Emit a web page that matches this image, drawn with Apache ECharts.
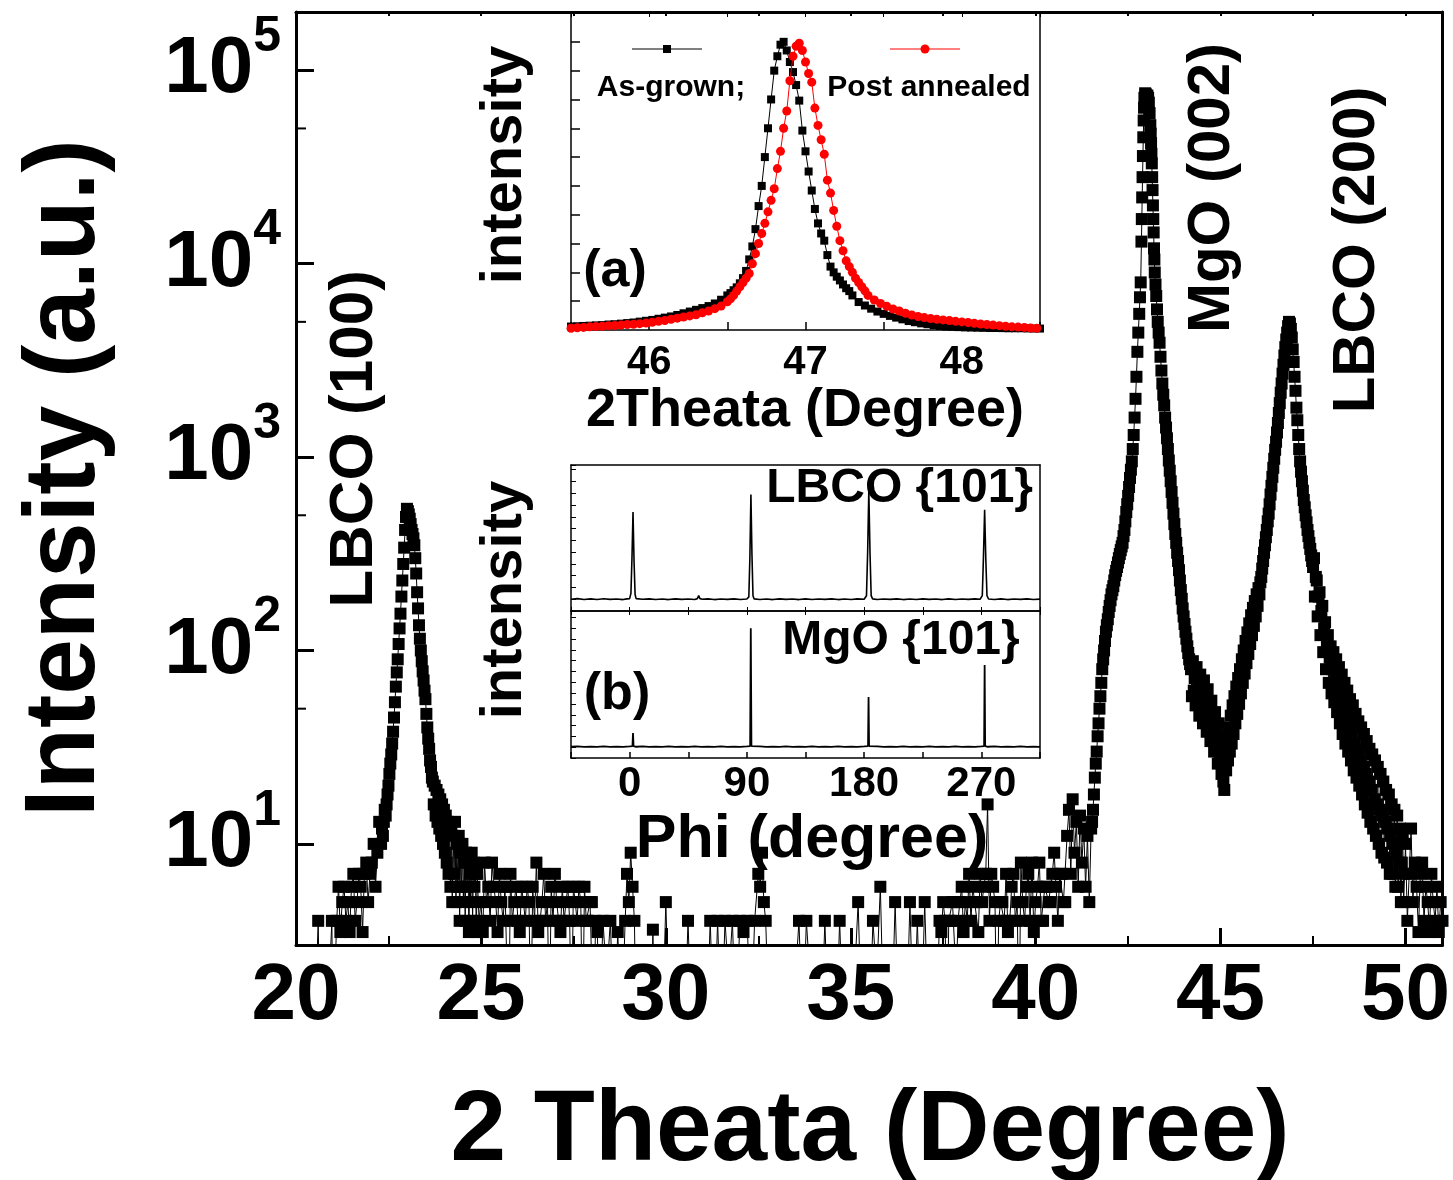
<!DOCTYPE html>
<html><head><meta charset="utf-8">
<script src="https://cdn.jsdelivr.net/npm/echarts@6/dist/echarts.min.js"></script>
<style>html,body{margin:0;padding:0;background:#fff}#c{width:1453px;height:1180px}</style>
</head><body><div id="c"></div>
<script>
// ===== Main scan: 2θ (degree) vs intensity (a.u.) =====
const bgLeft = [[20.0,1],[20.05,2],[20.1,1],[20.15,2],[20.2,1],[20.25,2],[20.3,1],[20.35,2],[20.4,1],[20.45,2],[20.5,1],[20.55,2],[20.6,4],[20.65,1],[20.7,2],[20.75,1],[20.8,2],[20.85,1],[20.9,2],[20.97,4],[21.0,1],[21.05,2],[21.1,4],[21.15,6],[21.2,3.5],[21.25,5],[21.3,6],[21.35,4],[21.4,5],[21.45,3.5],[21.5,6],[21.55,7],[21.6,4],[21.65,5],[21.7,7],[21.75,6],[21.8,3.5],[21.85,7],[21.9,8],[21.95,5],[22.0,7],[22.05,8],[22.1,10],[22.15,6],[22.2,9],[22.25,13]];
const peak100 = [[22.3,10],[22.325,12],[22.35,11],[22.375,13],[22.4,15],[22.425,14],[22.45,16],[22.475,18],[22.5,20],[22.525,23],[22.55,26],[22.575,29],[22.6,33],[22.625,38],[22.65,45],[22.675,54],[22.7,65],[22.725,77],[22.75,90],[22.775,108],[22.8,130],[22.825,155],[22.85,190],[22.875,230],[22.9,280],[22.925,340],[22.95,420],[22.975,490],[23.0,540],[23.025,525],[23.05,505],[23.075,480],[23.1,450],[23.125,420],[23.15,400],[23.175,380],[23.2,350],[23.225,300],[23.25,250],[23.275,200],[23.3,165],[23.325,135],[23.35,115],[23.375,100],[23.4,88],[23.425,78],[23.45,70],[23.475,62],[23.5,56],[23.525,47],[23.55,40],[23.575,35],[23.6,31],[23.625,27],[23.65,25],[23.675,22],[23.7,21],[23.725,16],[23.75,20],[23.775,14],[23.8,19],[23.825,13],[23.85,18],[23.875,12],[23.9,17],[23.925,11],[23.95,16],[23.975,10],[24.0,15],[24.025,9],[24.05,14],[24.075,8],[24.1,13],[24.125,7],[24.15,12],[24.175,6],[24.2,12],[24.225,5],[24.25,11],[24.275,7],[24.3,13],[24.325,5],[24.35,10],[24.375,6],[24.4,11],[24.425,4],[24.45,9],[24.475,6],[24.5,10],[24.525,5],[24.55,8],[24.575,4],[24.6,9],[24.625,6],[24.65,8],[24.675,3.5],[24.7,7],[24.725,5],[24.75,9],[24.775,4],[24.8,8],[24.825,6],[24.85,7],[24.875,3.5]];
const bgMid = [[24.9,7],[24.95,4],[25.0,5],[25.05,3.5],[25.1,8],[25.15,5],[25.2,6],[25.25,4],[25.3,8],[25.35,6],[25.4,5],[25.45,3.5],[25.5,7],[25.55,5],[25.6,4],[25.65,6],[25.7,6],[25.75,1],[25.8,7],[25.85,4],[25.9,5],[25.95,6],[26.0,4],[26.05,3.5],[26.1,6],[26.15,5],[26.2,4],[26.25,6],[26.3,5],[26.35,1],[26.4,6],[26.45,4],[26.5,8],[26.55,3.5],[26.6,4],[26.65,5],[26.7,7],[26.75,4],[26.8,5],[26.85,1],[26.9,6],[26.95,4],[27.0,7],[27.05,5],[27.1,4],[27.15,3.5],[27.2,6],[27.25,4],[27.3,5],[27.35,6],[27.4,4],[27.45,1],[27.5,6],[27.55,5],[27.6,4],[27.65,6],[27.7,5],[27.75,1],[27.8,6],[27.85,4],[27.9,4],[27.95,5],[28.0,5],[28.05,1],[28.1,4],[28.15,3.5]];
const sparse = [[28.2,1],[28.3,4],[28.4,2],[28.5,4],[28.6,1],[28.7,3.5],[28.8,1],[28.9,4],[28.95,7],[29.0,5],[29.05,9],[29.1,6],[29.15,4],[29.2,1],[29.3,2],[29.4,1],[29.5,2],[29.6,1],[29.65,3.6],[29.7,1],[29.8,2],[29.9,1],[30.0,5],[30.1,1],[30.2,2],[30.3,1],[30.4,2],[30.5,1],[30.6,4],[30.7,1],[30.8,2],[30.9,1],[31.0,2],[31.1,1],[31.2,4],[31.3,1],[31.4,4],[31.5,1],[31.6,4],[31.7,2],[31.8,4],[31.9,1],[32.0,4],[32.1,3.5],[32.2,4],[32.3,1],[32.4,4],[32.5,7],[32.55,6],[32.6,9],[32.65,5],[32.7,4],[32.8,1],[32.9,2],[33.0,1],[33.1,2],[33.2,1],[33.3,2],[33.4,1],[33.5,2],[33.6,4],[33.7,1],[33.8,4],[33.9,2],[34.0,1],[34.1,2],[34.2,1],[34.3,4],[34.4,1],[34.5,2],[34.6,1],[34.7,4],[34.8,1],[34.9,2],[35.0,1],[35.1,2],[35.2,5],[35.3,1],[35.4,2],[35.5,1],[35.6,4],[35.7,2],[35.8,6],[35.9,1],[36.0,2],[36.1,1],[36.2,5],[36.3,1],[36.4,2],[36.5,1],[36.6,5],[36.7,1],[36.8,4],[36.9,1],[37.0,5],[37.1,1],[37.2,2],[37.3,1]];
const bgRight = [[37.4,4],[37.45,3.5],[37.5,5],[37.55,4],[37.6,1],[37.65,4],[37.7,4],[37.75,5],[37.8,5],[37.85,2],[37.9,4],[37.95,5],[38.0,6],[38.05,3.5],[38.1,5],[38.15,4],[38.2,7],[38.25,4],[38.3,6],[38.35,5],[38.4,5],[38.45,3.5],[38.5,7],[38.55,5],[38.6,6],[38.65,7],[38.7,16],[38.75,4],[38.8,7],[38.85,6],[38.9,5],[38.95,1],[39.0,4],[39.05,5],[39.1,5],[39.15,4],[39.2,7],[39.25,3.5],[39.3,4],[39.35,6],[39.4,7],[39.45,4],[39.5,5],[39.55,1],[39.6,8],[39.65,5],[39.7,4],[39.75,6],[39.8,7],[39.85,4],[39.9,8],[39.95,3.5],[40.0,5],[40.05,6],[40.1,8],[40.15,4],[40.2,4],[40.25,6],[40.3,6],[40.35,5],[40.4,5],[40.45,7],[40.5,9],[40.55,6],[40.6,4],[40.65,7],[40.7,7],[40.75,5],[40.8,5],[40.85,11],[40.9,15],[40.95,7],[41.0,17],[41.05,9],[41.1,13],[41.15,6],[41.2,14],[41.25,8],[41.3,12],[41.35,6],[41.4,11],[41.45,5]];
const peak002 = [[41.5,12],[41.525,13],[41.55,15],[41.575,18],[41.6,22],[41.625,26],[41.65,30],[41.675,36],[41.7,42],[41.725,50],[41.75,58],[41.775,68],[41.8,80],[41.825,90],[41.85,100],[41.875,112],[41.9,125],[41.925,135],[41.95,145],[41.975,158],[42.0,170],[42.025,182],[42.05,195],[42.075,205],[42.1,215],[42.125,230],[42.15,245],[42.175,258],[42.2,270],[42.225,285],[42.25,300],[42.275,315],[42.3,330],[42.325,345],[42.35,360],[42.375,390],[42.4,420],[42.425,465],[42.45,520],[42.475,570],[42.5,630],[42.525,700],[42.55,780],[42.575,860],[42.6,950],[42.625,1100],[42.65,1300],[42.675,1600],[42.7,2000],[42.725,2600],[42.75,3500],[42.775,4400],[42.8,5500],[42.82,6700],[42.84,8000],[42.86,13000],[42.87,17000],[42.88,22000],[42.89,28000],[42.9,36000],[42.91,45000],[42.92,55000],[42.93,64000],[42.94,72000],[42.96,76000],[42.98,75000],[43.0,70000],[43.02,74000],[43.04,72000],[43.06,68000],[43.08,60000],[43.1,52000],[43.11,47000],[43.12,42000],[43.13,37000],[43.14,33000],[43.15,28000],[43.16,24000],[43.17,20000],[43.18,17000],[43.19,14500],[43.2,12000],[43.21,10500],[43.22,9000],[43.24,7800],[43.26,6800],[43.28,5800],[43.3,5000],[43.325,4400],[43.35,3900],[43.375,3300],[43.4,2800],[43.425,2400],[43.45,2100],[43.475,1850],[43.5,1600],[43.525,1420],[43.55,1250],[43.575,1100],[43.6,960],[43.625,850],[43.65,750],[43.675,660],[43.7,580],[43.725,510],[43.75,450],[43.775,400],[43.8,360],[43.825,320],[43.85,290],[43.875,260],[43.9,230],[43.925,205],[43.95,185],[43.975,165],[44.0,150],[44.025,137],[44.05,125],[44.075,115],[44.1,105],[44.125,97],[44.15,90],[44.175,85],[44.2,80],[44.225,58],[44.25,88],[44.275,62],[44.3,72],[44.325,52],[44.35,82],[44.375,58],[44.4,68],[44.425,46],[44.45,75],[44.475,50],[44.5,62],[44.525,42],[44.55,70],[44.575,45],[44.6,56],[44.625,38],[44.65,63],[44.675,40],[44.7,50],[44.725,34],[44.75,55],[44.775,36],[44.8,45],[44.825,30],[44.85,48],[44.875,31],[44.9,40],[44.925,26],[44.95,42],[44.975,27],[45.0,34],[45.025,23],[45.05,36],[45.075,21],[45.1,19],[45.125,30]];
const peak200 = [[45.15,24],[45.175,36],[45.2,27],[45.225,40],[45.25,30],[45.275,46],[45.3,33],[45.325,52],[45.35,37],[45.375,58],[45.4,42],[45.425,65],[45.45,47],[45.475,72],[45.5,53],[45.525,80],[45.55,60],[45.575,90],[45.6,68],[45.625,100],[45.65,76],[45.675,112],[45.7,86],[45.725,124],[45.75,96],[45.775,138],[45.8,108],[45.825,152],[45.85,120],[45.875,166],[45.9,134],[45.925,180],[45.95,150],[45.975,195],[46.0,170],[46.025,210],[46.05,195],[46.075,225],[46.1,240],[46.125,265],[46.15,290],[46.175,320],[46.2,350],[46.225,385],[46.25,420],[46.275,465],[46.3,510],[46.325,570],[46.35,640],[46.375,710],[46.4,790],[46.425,880],[46.45,980],[46.475,1090],[46.5,1200],[46.525,1340],[46.55,1500],[46.575,1690],[46.6,1900],[46.625,2150],[46.65,2400],[46.675,2700],[46.7,3000],[46.725,3350],[46.75,3700],[46.775,4050],[46.8,4400],[46.825,4750],[46.85,5000],[46.875,4900],[46.9,4600],[46.925,4150],[46.95,3600],[46.975,3100],[47.0,2600],[47.025,2200],[47.05,1800],[47.075,1550],[47.1,1300],[47.125,1100],[47.15,950],[47.175,840],[47.2,750],[47.225,670],[47.25,600],[47.275,550],[47.3,500],[47.325,460],[47.35,420],[47.375,390],[47.4,360],[47.425,335],[47.45,310],[47.475,290],[47.5,270],[47.525,300],[47.55,190],[47.575,240],[47.6,230],[47.625,150],[47.65,190],[47.675,200],[47.7,120],[47.725,160],[47.75,170],[47.775,98],[47.8,130],[47.825,140],[47.85,80],[47.875,110],[47.9,120],[47.925,68],[47.95,92],[47.975,105],[48.0,60],[48.025,80],[48.05,98],[48.075,54],[48.1,70],[48.125,90],[48.15,48],[48.175,62],[48.2,82],[48.225,42],[48.25,55],[48.275,75],[48.3,37],[48.325,50],[48.35,68],[48.375,33],[48.4,45],[48.425,62],[48.45,30],[48.475,40],[48.5,56],[48.525,27],[48.55,36],[48.575,52],[48.6,24],[48.625,33],[48.65,47],[48.675,22],[48.7,30],[48.725,43],[48.75,20],[48.775,27],[48.8,40],[48.825,18],[48.85,25],[48.875,37],[48.9,16],[48.925,23],[48.95,34],[48.975,14.5],[49.0,21],[49.025,31],[49.05,13],[49.075,19],[49.1,29],[49.125,12],[49.15,17],[49.175,27],[49.2,11],[49.225,16],[49.25,25],[49.275,10],[49.3,15],[49.325,23],[49.35,9],[49.375,14],[49.4,21],[49.425,8.5],[49.45,13],[49.475,19],[49.5,8],[49.525,12],[49.55,18],[49.575,7],[49.6,11],[49.625,16],[49.65,7],[49.675,10],[49.7,15],[49.725,6],[49.75,9],[49.775,14],[49.8,6],[49.825,8],[49.85,12],[49.875,5],[49.9,8],[49.925,11],[49.95,5],[49.975,7]];
const bgFar = [[50.0,10],[50.05,4],[50.1,7],[50.15,12],[50.2,5],[50.25,8],[50.3,6],[50.35,3.5],[50.4,7],[50.45,8],[50.5,4],[50.55,6],[50.6,5],[50.65,3.5],[50.7,7],[50.75,5],[50.8,4],[50.85,6],[50.9,3.5],[50.95,5],[51.0,4]];

const yMinorTicks = [50, 500, 5000, 50000];

// ===== Inset (a): normalised 2θ scans =====
const asGrown = [[45.5,0.12],[45.54,0.13],[45.58,0.14],[45.62,0.15],[45.66,0.16],[45.7,0.17],[45.74,0.19],[45.78,0.2],[45.82,0.22],[45.86,0.24],[45.9,0.26],[45.94,0.29],[45.98,0.32],[46.02,0.35],[46.06,0.39],[46.1,0.43],[46.14,0.47],[46.18,0.52],[46.22,0.58],[46.26,0.64],[46.3,0.7],[46.34,0.76],[46.38,0.83],[46.42,0.92],[46.46,1.05],[46.5,1.2],[46.52,1.28],[46.54,1.38],[46.56,1.48],[46.58,1.62],[46.6,1.8],[46.62,2.05],[46.64,2.45],[46.66,2.9],[46.68,3.5],[46.7,4.3],[46.72,5.0],[46.74,6.0],[46.76,7.0],[46.78,8.0],[46.8,9.0],[46.82,9.5],[46.84,9.9],[46.86,10.0],[46.88,9.7],[46.9,9.3],[46.92,8.95],[46.94,8.5],[46.96,7.96],[46.98,6.92],[47.0,6.2],[47.02,5.5],[47.04,4.84],[47.06,4.2],[47.08,3.7],[47.1,3.35],[47.12,3.1],[47.14,2.6],[47.16,2.2],[47.18,2.0],[47.2,1.85],[47.22,1.72],[47.24,1.58],[47.26,1.45],[47.28,1.35],[47.3,1.2],[47.34,0.97],[47.38,0.85],[47.42,0.74],[47.46,0.64],[47.5,0.56],[47.54,0.49],[47.58,0.43],[47.62,0.37],[47.66,0.31],[47.7,0.27],[47.74,0.23],[47.78,0.2],[47.82,0.17],[47.86,0.14],[47.9,0.12],[47.94,0.11],[47.98,0.1],[48.02,0.09],[48.06,0.085],[48.1,0.08],[48.14,0.075],[48.18,0.07],[48.22,0.07],[48.26,0.065],[48.3,0.06],[48.34,0.06],[48.38,0.06],[48.42,0.055],[48.46,0.05],[48.5,0.05]];
const postAnnealed = [[45.5,0.06],[45.54,0.08],[45.58,0.09],[45.62,0.11],[45.66,0.12],[45.7,0.13],[45.74,0.15],[45.78,0.16],[45.82,0.17],[45.86,0.19],[45.9,0.2],[45.94,0.22],[45.98,0.24],[46.02,0.27],[46.06,0.3],[46.1,0.33],[46.14,0.37],[46.18,0.41],[46.22,0.45],[46.26,0.49],[46.3,0.53],[46.34,0.6],[46.38,0.66],[46.42,0.74],[46.46,0.83],[46.5,0.98],[46.52,1.08],[46.54,1.2],[46.56,1.35],[46.58,1.5],[46.6,1.65],[46.62,1.8],[46.64,1.96],[46.66,2.3],[46.68,2.65],[46.7,3.0],[46.72,3.35],[46.74,3.7],[46.76,4.1],[46.78,4.5],[46.8,4.9],[46.82,5.6],[46.84,6.2],[46.86,7.0],[46.88,7.6],[46.9,8.65],[46.92,9.5],[46.94,9.85],[46.96,9.95],[46.98,9.7],[47.0,9.3],[47.02,8.9],[47.04,8.6],[47.06,7.7],[47.08,7.1],[47.1,6.6],[47.12,6.1],[47.14,5.2],[47.16,4.75],[47.18,4.15],[47.2,3.6],[47.22,3.1],[47.24,2.75],[47.26,2.4],[47.28,2.2],[47.3,2.0],[47.32,1.8],[47.34,1.65],[47.36,1.5],[47.38,1.36],[47.4,1.2],[47.44,1.04],[47.48,0.92],[47.52,0.82],[47.56,0.73],[47.6,0.66],[47.64,0.58],[47.68,0.52],[47.72,0.47],[47.76,0.43],[47.8,0.4],[47.84,0.37],[47.88,0.35],[47.92,0.33],[47.96,0.3],[48.0,0.28],[48.04,0.26],[48.08,0.23],[48.12,0.21],[48.16,0.19],[48.2,0.17],[48.24,0.15],[48.28,0.13],[48.32,0.11],[48.36,0.1],[48.4,0.09],[48.44,0.07],[48.48,0.06]];

// ===== Inset (b): phi scans =====
const phiLBCO = [[-45,1.0],[-40,1.05],[-35,0.98],[-30,1.03],[-25,0.97],[-20,1.04],[-15,0.99],[-10,1.02],[-5,0.97],[-2,1.03],[0,1.05],[1,1.5],[1.8,4.5],[2.6,8.4],[3.4,4.2],[4.2,1.4],[5,1.05],[10,1.0],[15,1.03],[20,0.98],[25,1.02],[30,0.97],[35,1.03],[40,0.99],[45,1.02],[50,0.98],[52,1.05],[53,1.3],[54,1.05],[56,1.0],[60,1.03],[65,0.97],[70,1.02],[75,0.99],[80,1.03],[85,0.98],[90,1.02],[91.5,1.2],[92.3,4.5],[93.1,9.9],[93.9,4.8],[94.7,1.3],[95.5,1.03],[100,0.98],[105,1.02],[110,0.97],[115,1.03],[120,0.99],[125,1.02],[130,0.97],[135,1.03],[140,0.98],[145,1.02],[150,0.99],[155,1.03],[160,0.97],[165,1.02],[170,0.98],[175,1.03],[180,1.0],[181.8,1.3],[182.7,5.0],[183.6,10.2],[184.5,5.0],[185.4,1.3],[186.5,1.03],[190,0.98],[195,1.02],[200,0.99],[205,1.03],[210,0.97],[215,1.02],[220,0.98],[225,1.03],[230,0.99],[235,1.02],[240,0.97],[245,1.03],[250,0.98],[255,1.02],[260,0.99],[265,1.03],[269,1.0],[270.7,1.3],[271.6,4.6],[272.5,8.6],[273.4,4.4],[274.3,1.3],[275.5,1.02],[280,0.98],[285,1.03],[290,0.97],[295,1.02],[300,0.99],[305,1.03],[310,0.98],[315,1.01]];
const phiMgO = [[-45,1.05],[-40,1.08],[-35,1.02],[-30,1.06],[-25,1.03],[-20,1.07],[-15,1.02],[-10,1.06],[-5,1.03],[0,1.07],[2.2,1.1],[2.6,2.3],[3.0,1.1],[5,1.04],[10,1.07],[15,1.02],[20,1.06],[25,1.03],[30,1.07],[35,1.02],[40,1.06],[45,1.03],[50,1.07],[55,1.02],[60,1.06],[65,1.03],[70,1.07],[75,1.02],[80,1.06],[85,1.03],[90,1.07],[92.5,1.1],[93.0,12.0],[93.5,1.1],[95,1.04],[100,1.07],[105,1.02],[110,1.06],[115,1.03],[120,1.07],[125,1.02],[130,1.06],[135,1.03],[140,1.07],[145,1.02],[150,1.06],[155,1.03],[160,1.07],[165,1.02],[170,1.06],[175,1.03],[180,1.07],[183.0,1.1],[183.4,5.65],[183.8,1.1],[185,1.04],[190,1.07],[195,1.02],[200,1.06],[205,1.03],[210,1.07],[215,1.02],[220,1.06],[225,1.03],[230,1.07],[235,1.02],[240,1.06],[245,1.03],[250,1.07],[255,1.02],[260,1.06],[265,1.03],[270,1.07],[272.1,1.1],[272.5,8.6],[272.9,1.1],[275,1.04],[280,1.07],[285,1.02],[290,1.06],[295,1.03],[300,1.07],[305,1.02],[310,1.06],[315,1.03]];

const mainData = [].concat(bgLeft, peak100, bgMid, sparse, bgRight, peak002, peak200, bgFar);

const FF = '"Liberation Sans", Arial, Helvetica, sans-serif';
const K = '#000';

function expLabel(v) {
  const e = Math.log10(v);
  if (Math.abs(e - Math.round(e)) > 1e-6) return '';
  return '{b|10}{s|' + Math.round(e) + '}';
}
function line(w) { return {show: true, onZero: false, lineStyle: {color: K, width: w}}; }
function txt(text, x, y, size, rot, align) {
  const a = align || 'center';
  return {type: 'text', x: x, y: y, rotation: rot || 0, z: 100,
    style: {text: text, fill: K, font: 'bold ' + size + 'px ' + FF,
      textAlign: a, align: a, textVerticalAlign: 'middle', verticalAlign: 'middle'}};
}

const chart = echarts.init(document.getElementById('c'), null, {renderer: 'canvas'});
const noLbl = {show: false};
const option = {
  animation: false,
  backgroundColor: '#fff',
  textStyle: {fontFamily: FF},
  grid: [
    {left: 296, top: 12, width: 1147, height: 933},
    {left: 571, top: 13, width: 469, height: 317},
    {left: 571, top: 465, width: 469, height: 146},
    {left: 571, top: 611, width: 469, height: 147}
  ],
  xAxis: [
    {type: 'value', gridIndex: 0, min: 20, max: 51, interval: 5, position: 'bottom',
     axisLine: line(3), splitLine: {show: false},
     axisTick: {show: true, inside: true, length: 17, lineStyle: {color: K, width: 3}},
     minorTick: {show: true, splitNumber: 2, length: 9, lineStyle: {color: K, width: 2}},
     axisLabel: {show: true, margin: 12, color: K, fontSize: 80, fontWeight: 'bold', fontFamily: FF,
       showMaxLabel: false, formatter: v => (v % 5 === 0 ? String(v) : '')}},
    {type: 'value', gridIndex: 0, min: 20, max: 51, interval: 5, position: 'top',
     axisLine: line(3), splitLine: {show: false},
     axisTick: {show: true, inside: true, length: 4, lineStyle: {color: K, width: 2}},
     minorTick: {show: true, splitNumber: 2, length: 4, lineStyle: {color: K, width: 2}},
     axisLabel: noLbl},
    {type: 'value', gridIndex: 1, min: 45.5, max: 48.5, interval: 0.5, position: 'bottom',
     axisLine: line(1.5), splitLine: {show: false},
     axisTick: {show: true, inside: true, length: 8, lineStyle: {color: K, width: 1.5}},
     axisLabel: {show: true, margin: 13, color: K, fontSize: 40, fontWeight: 'bold', fontFamily: FF,
       formatter: v => (Math.abs(v - Math.round(v)) < 1e-6 ? String(Math.round(v)) : '')}},
    {type: 'value', gridIndex: 1, min: 45.5, max: 48.5, interval: 0.5, position: 'top',
     axisLine: line(1.5), splitLine: {show: false},
     axisTick: {show: true, inside: true, length: 4, lineStyle: {color: K, width: 1}},
     axisLabel: noLbl},
    {type: 'value', gridIndex: 2, min: -45, max: 315, interval: 45, position: 'bottom',
     axisLine: line(1.5), splitLine: {show: false},
     axisTick: {show: true, inside: true, length: 4, lineStyle: {color: K, width: 1}},
     axisLabel: noLbl},
    {type: 'value', gridIndex: 2, min: -45, max: 315, interval: 45, position: 'top',
     axisLine: line(1.5), splitLine: {show: false}, axisTick: {show: false}, axisLabel: noLbl},
    {type: 'value', gridIndex: 3, min: -45, max: 315, interval: 45, position: 'bottom',
     axisLine: line(1.5), splitLine: {show: false},
     axisTick: {show: true, inside: true, length: 6, lineStyle: {color: K, width: 1.5}},
     axisLabel: {show: true, margin: 5, color: K, fontSize: 42, fontWeight: 'bold', fontFamily: FF,
       formatter: v => (v % 90 === 0 ? String(v) : '')}},
    {type: 'value', gridIndex: 3, min: -45, max: 315, interval: 45, position: 'top',
     axisLine: line(1.5), splitLine: {show: false},
     axisTick: {show: true, inside: true, length: 4, lineStyle: {color: K, width: 1}},
     axisLabel: noLbl}
  ],
  yAxis: [
    {type: 'log', logBase: 10, gridIndex: 0, min: 3, max: 200000, position: 'left',
     axisLine: line(3), splitLine: {show: false},
     axisTick: {show: true, inside: true, length: 18, lineStyle: {color: K, width: 3}},
     minorTick: {show: false},
     axisLabel: {show: true, margin: 15, color: K, formatter: expLabel,
       rich: {b: {fontSize: 80, fontWeight: 'bold', fontFamily: FF, color: K, lineHeight: 116},
              s: {fontSize: 50, fontWeight: 'bold', fontFamily: FF, color: K, lineHeight: 50, verticalAlign: 'top'}}}},
    {type: 'log', logBase: 10, gridIndex: 0, min: 3, max: 200000, position: 'right',
     axisLine: line(3), splitLine: {show: false}, axisTick: {show: false}, axisLabel: noLbl},
    {type: 'value', gridIndex: 1, min: 0, max: 11, interval: 1, position: 'left',
     axisLine: line(1.5), splitLine: {show: false},
     axisTick: {show: true, inside: true, length: 9, lineStyle: {color: K, width: 1.5}}, axisLabel: noLbl},
    {type: 'value', gridIndex: 1, min: 0, max: 11, interval: 1, position: 'right',
     axisLine: line(1.5), splitLine: {show: false}, axisTick: {show: false}, axisLabel: noLbl},
    {type: 'value', gridIndex: 2, min: 0, max: 12.4, interval: 1, position: 'left',
     axisLine: line(1.5), splitLine: {show: false},
     axisTick: {show: true, inside: true, length: 5, lineStyle: {color: K, width: 1}}, axisLabel: noLbl},
    {type: 'value', gridIndex: 2, min: 0, max: 12.4, interval: 1, position: 'right',
     axisLine: line(1.5), splitLine: {show: false}, axisTick: {show: false}, axisLabel: noLbl},
    {type: 'value', gridIndex: 3, min: 0, max: 13.6, interval: 1, position: 'left',
     axisLine: line(1.5), splitLine: {show: false},
     axisTick: {show: true, inside: true, length: 5, lineStyle: {color: K, width: 1}}, axisLabel: noLbl},
    {type: 'value', gridIndex: 3, min: 0, max: 13.6, interval: 1, position: 'right',
     axisLine: line(1.5), splitLine: {show: false}, axisTick: {show: false}, axisLabel: noLbl}
  ],
  series: [
    {name: 'scan', type: 'line', xAxisIndex: 0, yAxisIndex: 0, data: mainData, clip: true,
     symbol: 'rect', symbolSize: 12, showAllSymbol: true,
     itemStyle: {color: K}, lineStyle: {color: K, width: 1}, z: 3},
    {name: 'yminor', type: 'custom', xAxisIndex: 0, yAxisIndex: 0, silent: true, clip: false, z: 4,
     data: yMinorTicks.map(v => [20, v]),
     renderItem: (params, api) => {
       const p = api.coord([api.value(0), api.value(1)]);
       return {type: 'line', shape: {x1: p[0], y1: p[1], x2: p[0] + 10, y2: p[1]},
               style: {stroke: K, lineWidth: 2}};
     }},
    {name: 'As-grown', type: 'line', xAxisIndex: 2, yAxisIndex: 2, data: asGrown, clip: true,
     symbol: 'rect', symbolSize: 8, showAllSymbol: true,
     itemStyle: {color: K}, lineStyle: {color: K, width: 1}, z: 3},
    {name: 'Post annealed', type: 'line', xAxisIndex: 2, yAxisIndex: 2, data: postAnnealed, clip: true,
     symbol: 'circle', symbolSize: 9, showAllSymbol: true,
     itemStyle: {color: '#ff0000'}, lineStyle: {color: '#ff0000', width: 1}, z: 4},
    {name: 'LBCO phi', type: 'line', xAxisIndex: 4, yAxisIndex: 4, data: phiLBCO, clip: true,
     symbol: 'none', lineStyle: {color: K, width: 1.6}, z: 3},
    {name: 'MgO phi', type: 'line', xAxisIndex: 6, yAxisIndex: 6, data: phiMgO, clip: true,
     symbol: 'none', lineStyle: {color: K, width: 1.8}, z: 3}
  ],
  graphic: [
    txt('Intensity (a.u.)', 66, 478, 100, Math.PI / 2),
    txt('2 Theata (Degree)', 870, 1132, 100, 0),
    txt('LBCO (100)', 355, 439, 62, Math.PI / 2),
    txt('MgO (002)', 1212, 188, 60, Math.PI / 2),
    txt('LBCO (200)', 1357, 250, 60, Math.PI / 2),
    txt('intensity', 505, 165, 58, Math.PI / 2),
    txt('(a)', 615, 272, 52, 0),
    txt('2Theata (Degree)', 805, 411, 54, 0),
    txt('As-grown;', 671, 88, 30, 0),
    txt('Post annealed', 929, 88, 30, 0),
    {type: 'line', z: 100, shape: {x1: 632, y1: 49, x2: 702, y2: 49}, style: {stroke: K, lineWidth: 1}},
    {type: 'rect', z: 101, shape: {x: 663, y: 45, width: 8, height: 8}, style: {fill: K}},
    {type: 'line', z: 100, shape: {x1: 890, y1: 49, x2: 960, y2: 49}, style: {stroke: '#ff0000', lineWidth: 1}},
    {type: 'circle', z: 101, shape: {cx: 925, cy: 49, r: 4.5}, style: {fill: '#ff0000'}},
    txt('intensity', 505, 600, 58, Math.PI / 2),
    txt('(b)', 617, 695, 52, 0),
    txt('LBCO {101}', 1033, 489, 48, 0, 'right'),
    txt('MgO {101}', 901, 641, 48, 0),
    txt('Phi (degree)', 812, 840, 61, 0)
  ]
};
chart.setOption(option);
</script></body></html>
